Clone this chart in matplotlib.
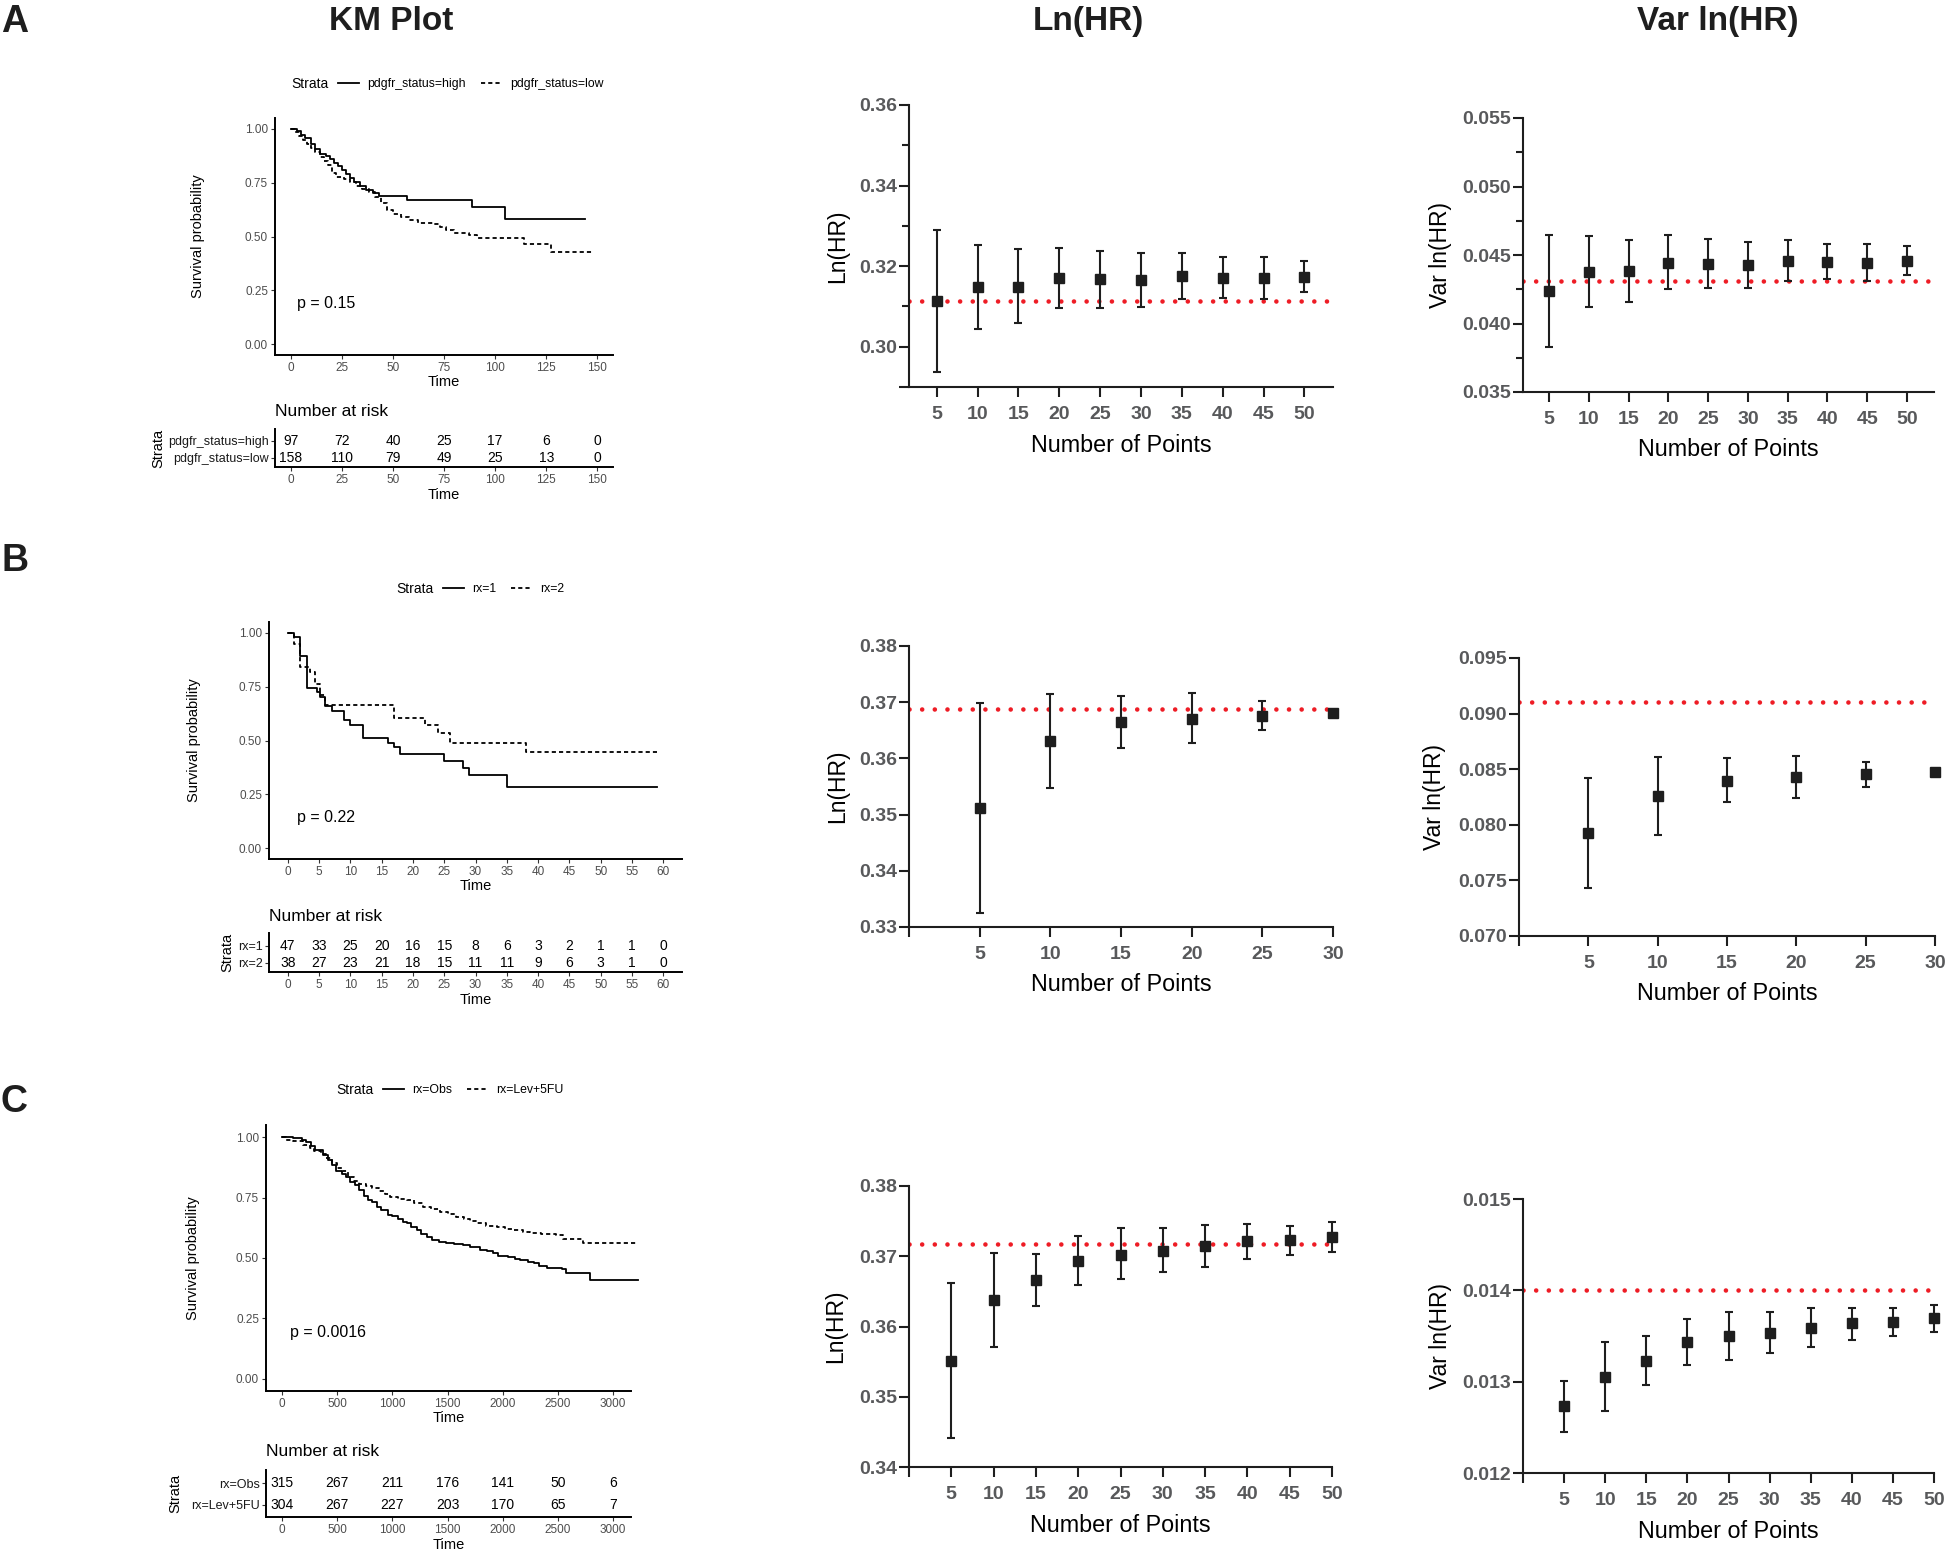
import numpy as np
import matplotlib
matplotlib.use('Agg')
import matplotlib.pyplot as plt

plt.rcParams['font.family'] = ['Liberation Sans', 'DejaVu Sans']

W, H = 1946, 1550

# ---------------- KM curves ----------------
# A: pdgfr_status
a_high_t = [0, 3, 5, 7, 10, 12, 14, 17, 19, 21, 23, 25, 27, 29, 31, 34, 37, 40, 43, 57, 88.5, 105, 144]
a_high_s = [1.0, 0.99, 0.97, 0.955, 0.93, 0.905, 0.885, 0.875, 0.86, 0.84, 0.825, 0.81, 0.79,
            0.77, 0.755, 0.735, 0.715, 0.70, 0.69, 0.671, 0.636, 0.583, 0.583]
a_low_t = [0, 2, 4, 6, 8, 10, 12, 14, 16, 18, 20, 22, 26, 29, 32, 35, 38, 41, 44, 47, 50, 54,
           58, 62, 70, 73, 76, 80, 87, 91, 114, 127.5, 148]
a_low_s = [1.0, 0.985, 0.965, 0.946, 0.93, 0.91, 0.89, 0.87, 0.85, 0.83, 0.795, 0.778, 0.768,
           0.752, 0.735, 0.72, 0.705, 0.685, 0.655, 0.625, 0.605, 0.59, 0.578, 0.562, 0.56,
           0.545, 0.53, 0.517, 0.506, 0.491, 0.463, 0.426, 0.426]
a_labels = ['pdgfr_status=high', 'pdgfr_status=low']
a_risk_t = [0, 25, 50, 75, 100, 125, 150]
a_risk = [[97, 72, 40, 25, 17, 6, 0], [158, 110, 79, 49, 25, 13, 0]]

# B: rx=1 / rx=2
b_1_t = [0, 1, 2, 3, 4.7, 5.1, 6, 7, 9, 10, 12, 16, 17, 18, 25, 28, 29, 35, 59]
b_1_s = [1.0, 0.979, 0.894, 0.745, 0.723, 0.70, 0.66, 0.638, 0.596, 0.574, 0.511, 0.489,
         0.468, 0.436, 0.404, 0.372, 0.34, 0.284, 0.284]
b_2_t = [0, 1, 2, 3.5, 4.3, 5.1, 6, 17, 22, 24, 26, 38, 59]
b_2_s = [1.0, 0.947, 0.842, 0.816, 0.763, 0.711, 0.667, 0.606, 0.573, 0.535, 0.49, 0.446, 0.446]
b_labels = ['rx=1', 'rx=2']
b_risk_t = [0, 5, 10, 15, 20, 25, 30, 35, 40, 45, 50, 55, 60]
b_risk = [[47, 33, 25, 20, 16, 15, 8, 6, 3, 2, 1, 1, 0],
          [38, 27, 23, 21, 18, 15, 11, 11, 9, 6, 3, 1, 0]]

# C: rx=Obs / rx=Lev+5FU
c_obs_t = [0, 100, 180, 220, 260, 300, 370, 420, 450, 490, 540, 580, 620, 660, 700, 740, 780,
           820, 860, 900, 960, 1000, 1050, 1100, 1130, 1170, 1220, 1260, 1310, 1360, 1420, 1490,
           1560, 1640, 1700, 1790, 1860, 1910, 1960, 2050, 2110, 2160, 2230, 2280, 2330, 2400,
           2540, 2570, 2790, 3230]
c_obs_s = [1.0, 0.998, 0.99, 0.98, 0.965, 0.945, 0.925, 0.905, 0.885, 0.858, 0.848, 0.835,
           0.815, 0.802, 0.78, 0.757, 0.738, 0.73, 0.712, 0.70, 0.677, 0.672, 0.663, 0.65, 0.643,
           0.63, 0.615, 0.60, 0.588, 0.575, 0.568, 0.56, 0.558, 0.554, 0.545, 0.533, 0.527, 0.519,
           0.508, 0.505, 0.497, 0.492, 0.485, 0.478, 0.465, 0.46, 0.453, 0.437, 0.409, 0.409]
c_lev_t = [0, 40, 100, 190, 250, 290, 350, 400, 450, 500, 540, 600, 650, 700, 760, 820, 880,
           930, 980, 1050, 1130, 1200, 1280, 1350, 1430, 1500, 1580, 1650, 1700, 1770, 1850,
           1950, 2020, 2100, 2180, 2250, 2350, 2480, 2550, 2600, 2730, 3230]
c_lev_s = [1.0, 0.99, 0.982, 0.968, 0.955, 0.943, 0.93, 0.912, 0.893, 0.873, 0.858, 0.835,
           0.82, 0.808, 0.798, 0.79, 0.778, 0.765, 0.752, 0.745, 0.74, 0.727, 0.712, 0.703, 0.69,
           0.68, 0.67, 0.66, 0.652, 0.643, 0.633, 0.628, 0.62, 0.615, 0.607, 0.602, 0.6, 0.595,
           0.58, 0.577, 0.56, 0.56]
c_labels = ['rx=Obs', 'rx=Lev+5FU']
c_risk_t = [0, 500, 1000, 1500, 2000, 2500, 3000]
c_risk = [[315, 267, 211, 176, 141, 50, 6], [304, 267, 227, 203, 170, 65, 7]]

# ---------------- Ln(HR) / Var ln(HR) estimates ----------------
a_n = [5, 10, 15, 20, 25, 30, 35, 40, 45, 50]
a_ln = [0.3113, 0.3147, 0.3149, 0.3171, 0.3167, 0.3165, 0.3175, 0.3171, 0.3170, 0.3173]
a_ln_lo = [0.2938, 0.3045, 0.3058, 0.3096, 0.3096, 0.3098, 0.3118, 0.3122, 0.3119, 0.3136]
a_ln_hi = [0.3290, 0.3253, 0.3242, 0.3245, 0.3238, 0.3232, 0.3233, 0.3222, 0.3223, 0.3214]
a_ln_ref = 0.3113
a_var = [0.04239, 0.04376, 0.04383, 0.04444, 0.04434, 0.04427, 0.04456, 0.04449, 0.04444, 0.04459]
a_var_lo = [0.03829, 0.04117, 0.04154, 0.04249, 0.04256, 0.04256, 0.04310, 0.04322, 0.04310, 0.04354]
a_var_hi = [0.04646, 0.04639, 0.04610, 0.04644, 0.04615, 0.04598, 0.04607, 0.04578, 0.04578, 0.04563]
a_var_ref = 0.04312

b_n = [5, 10, 15, 20, 25, 30]
b_ln = [0.35112, 0.36302, 0.36639, 0.36704, 0.36751, 0.36805]
b_ln_lo = [0.33249, 0.35467, 0.36183, 0.36266, 0.36503, 0.3677]
b_ln_hi = [0.36982, 0.37148, 0.37107, 0.37166, 0.37018, 0.3684]
b_ln_ref = 0.36876
b_var = [0.07926, 0.08256, 0.08397, 0.08433, 0.08454, 0.08478]
b_var_lo = [0.07433, 0.07904, 0.08205, 0.08244, 0.08343, 0.0846]
b_var_hi = [0.08421, 0.08611, 0.08599, 0.0862, 0.08565, 0.0849]
b_var_ref = 0.09103

c_n = [5, 10, 15, 20, 25, 30, 35, 40, 45, 50]
c_ln = [0.35507, 0.36374, 0.36664, 0.36938, 0.37024, 0.37081, 0.37147, 0.37218, 0.37232, 0.37275]
c_ln_lo = [0.34408, 0.35706, 0.36289, 0.36588, 0.36673, 0.36773, 0.36853, 0.36957, 0.37014, 0.37066]
c_ln_hi = [0.36621, 0.37047, 0.37033, 0.37289, 0.37398, 0.37398, 0.37445, 0.37464, 0.37431, 0.37483]
c_ln_ref = 0.37175
c_var = [0.012731, 0.013049, 0.013228, 0.013429, 0.013502, 0.013538, 0.013593, 0.013637, 0.013652, 0.013692]
c_var_lo = [0.012453, 0.012680, 0.012968, 0.013184, 0.013242, 0.013315, 0.013381, 0.013458, 0.013505, 0.013542]
c_var_hi = [0.013005, 0.013429, 0.013498, 0.013681, 0.013758, 0.013761, 0.013805, 0.013809, 0.013809, 0.013838]
c_var_ref = 0.01400

fig = plt.figure(figsize=(W / 100, H / 100), dpi=100)


def px_ax(l, t, r, b):
    return fig.add_axes([l / W, 1 - b / H, (r - l) / W, (b - t) / H])


def fx(x):
    return x / W


def fy(y):
    return 1 - y / H


GRAY = '#4d4d4d'


def km_panel(box, xlim, xticks, curves, labels, ptxt, pxy, leg_x, leg_y, ylab_x):
    ax = px_ax(*box)
    lines = []
    for (t, s), ls in zip(curves, ['-', (0, (2.3, 1.7))]):
        ln, = ax.step(t, s, where='post', color='black', lw=1.3, linestyle=ls, clip_on=False)
        lines.append(ln)
    ax.set_xlim(xlim)
    ax.set_ylim(-0.05, 1.05)
    ax.set_xticks(xticks)
    ax.set_yticks([0, 0.25, 0.5, 0.75, 1.0], labels=['0.00', '0.25', '0.50', '0.75', '1.00'])
    for sp in ['top', 'right']:
        ax.spines[sp].set_visible(False)
    for sp in ['left', 'bottom']:
        ax.spines[sp].set_linewidth(1.4)
    ax.tick_params(length=3, width=0.8, color='#333333', labelcolor=GRAY, labelsize=8.5, pad=2)
    ax.set_xlabel('Time', fontsize=10.5)
    ax.xaxis.set_label_coords(0.5, -(27 / (box[3] - box[1])))
    ax.xaxis.label.set_va('center')
    ax.set_ylabel('Survival probability', fontsize=10.5)
    ax.yaxis.set_label_coords(-(box[0] - ylab_x) / (box[2] - box[0]), 0.5)
    ax.yaxis.label.set_va('center')
    ax.text(pxy[0], pxy[1], ptxt, fontsize=11.5, ha='left', va='center')
    ax.legend(lines, labels, ncol=2, frameon=False, loc='center left',
              bbox_to_anchor=(fx(leg_x), fy(leg_y)), bbox_transform=fig.transFigure,
              handlelength=1.7, handletextpad=0.7, columnspacing=1.2, fontsize=8.8,
              borderpad=0, borderaxespad=0)
    fig.text(fx(leg_x - 9), fy(leg_y), 'Strata', fontsize=10, ha='right', va='center')
    return ax


def risk_panel(box, xlim, xticks, counts, names, ylim, title_y, strata_x):
    ax = px_ax(*box)
    for vals, yv in zip(counts, [2, 1]):
        for xt, v in zip(xticks, vals):
            ax.text(xt, yv, str(v), ha='center', va='center', fontsize=10)
    ax.set_xlim(xlim)
    ax.set_ylim(ylim)
    ax.set_xticks(xticks)
    ax.set_yticks([2, 1], labels=names)
    for sp in ['top', 'right']:
        ax.spines[sp].set_visible(False)
    for sp in ['left', 'bottom']:
        ax.spines[sp].set_linewidth(1.4)
    ax.tick_params(axis='x', length=3, width=0.8, color='#333333', labelcolor=GRAY,
                   labelsize=8.5, pad=2)
    ax.tick_params(axis='y', length=3, width=0.8, color='#333333', labelcolor='#1a1a1a',
                   labelsize=9, pad=1.5)
    ax.set_xlabel('Time', fontsize=10.5)
    ax.xaxis.set_label_coords(0.5, -(28 / (box[3] - box[1])))
    ax.xaxis.label.set_va('center')
    ax.set_ylabel('Strata', fontsize=10.5)
    ax.yaxis.set_label_coords(-(box[0] - strata_x) / (box[2] - box[0]), 0.5)
    ax.yaxis.label.set_va('center')
    fig.text(fx(box[0]), fy(title_y), 'Number at risk', fontsize=12.5, ha='left', va='center')
    return ax


def prism_panel(box, xlim, xticks, xlabels, ylim, yticks, ylabels, yminor,
                n, est, lo, hi, ref, ylabel, ylab_x):
    ax = px_ax(*box)
    ax.axhline(ref, color='#ee1c25', lw=3.3, linestyle=(0, (0.01, 2.75)),
               dash_capstyle='round', zorder=1)
    est = np.array(est)
    err = [est - np.array(lo), np.array(hi) - est]
    cont = ax.errorbar(n, est, yerr=err, fmt='s', ms=7.7, color='#1e1e1e', ecolor='#1e1e1e',
                       elinewidth=1.5, capsize=3, capthick=1.5, zorder=3)
    for art in [cont.lines[0]] + list(cont.lines[1]) + list(cont.lines[2]):
        art.set_clip_on(False)
    ax.set_xlim(xlim)
    ax.set_ylim(ylim)
    ax.set_xticks(xticks, labels=xlabels)
    ax.set_yticks(yticks, labels=ylabels)
    if yminor:
        ax.set_yticks(yminor, minor=True)
    for sp in ['top', 'right']:
        ax.spines[sp].set_visible(False)
    for sp in ['left', 'bottom']:
        ax.spines[sp].set_linewidth(1.5)
        ax.spines[sp].set_color('#1e1e1e')
    ax.tick_params(axis='y', which='major', length=7, width=1.5, color='#1e1e1e',
                   labelcolor='#58595b', labelsize=14, pad=1.5)
    ax.tick_params(axis='y', which='minor', length=5, width=1.5, color='#1e1e1e')
    ax.tick_params(axis='x', which='major', length=7, width=1.5, color='#1e1e1e',
                   labelcolor='#58595b', labelsize=14, pad=7)
    for lab in ax.get_xticklabels() + ax.get_yticklabels():
        lab.set_fontweight('bold')
    hgt = box[3] - box[1]
    ax.set_xlabel('Number of Points', fontsize=16.8)
    ax.xaxis.set_label_coords(0.5, -(58 / hgt))
    ax.xaxis.label.set_va('center')
    ax.set_ylabel(ylabel, fontsize=16.5)
    ax.yaxis.set_label_coords(-(box[0] - ylab_x) / (box[2] - box[0]), 0.5)
    ax.yaxis.label.set_va('center')
    return ax


# ---------------- Row A ----------------
km_panel((275, 118, 613, 355), (-7.8, 157.7), a_risk_t,
         [(a_high_t, a_high_s), (a_low_t, a_low_s)], a_labels,
         'p = 0.15', (2.9, 0.19), 338, 84, 198)
risk_panel((275, 429, 613, 467), (-7.8, 157.7), a_risk_t, a_risk, a_labels,
           (0.47, 2.7), 412, 158)

prism_panel((909, 105, 1333, 387), (1.6, 53.5), a_n, [str(v) for v in a_n],
            (0.29, 0.36), [0.29, 0.30, 0.32, 0.34, 0.36], ['', '0.30', '0.32', '0.34', '0.36'],
            [0.31, 0.33, 0.35], a_n, a_ln, a_ln_lo, a_ln_hi, a_ln_ref, 'Ln(HR)', 838)
prism_panel((1523, 118, 1934, 392), (1.7, 53.4), a_n, [str(v) for v in a_n],
            (0.035, 0.055), [0.035, 0.040, 0.045, 0.050, 0.055],
            ['0.035', '0.040', '0.045', '0.050', '0.055'],
            [0.0375, 0.0425, 0.0475, 0.0525], a_n, a_var, a_var_lo, a_var_hi, a_var_ref,
            'Var ln(HR)', 1440)

# ---------------- Row B ----------------
km_panel((269, 622, 682, 859), (-3.0, 63.0), b_risk_t,
         [(b_1_t, b_1_s), (b_2_t, b_2_s)], b_labels,
         'p = 0.22', (1.4, 0.144), 443, 589, 194)
risk_panel((269, 933, 682, 972), (-3.0, 63.0), b_risk_t, b_risk, b_labels,
           (0.47, 2.76), 917, 227)

prism_panel((909, 646, 1333, 927), (0, 30), [0] + b_n, [''] + [str(v) for v in b_n],
            (0.33, 0.38), [0.33, 0.34, 0.35, 0.36, 0.37, 0.38],
            ['0.33', '0.34', '0.35', '0.36', '0.37', '0.38'],
            None, b_n, b_ln, b_ln_lo, b_ln_hi, b_ln_ref, 'Ln(HR)', 838)
prism_panel((1519, 658, 1935, 936), (0, 30), [0] + b_n, [''] + [str(v) for v in b_n],
            (0.070, 0.095), [0.070, 0.075, 0.080, 0.085, 0.090, 0.095],
            ['0.070', '0.075', '0.080', '0.085', '0.090', '0.095'],
            None, b_n, b_var, b_var_lo, b_var_hi, b_var_ref, 'Var ln(HR)', 1435)

# ---------------- Row C ----------------
km_panel((266, 1125, 631, 1391), (-145, 3163), c_risk_t,
         [(c_obs_t, c_obs_s), (c_lev_t, c_lev_s)], c_labels,
         'p = 0.0016', (72, 0.19), 383, 1090, 193)
risk_panel((266, 1470, 631, 1517), (-145, 3163), c_risk_t, c_risk, c_labels,
           (0.45, 2.6), 1451, 175)

prism_panel((909, 1186, 1332, 1467), (0, 50), [0] + c_n, [''] + [str(v) for v in c_n],
            (0.34, 0.38), [0.34, 0.35, 0.36, 0.37, 0.38],
            ['0.34', '0.35', '0.36', '0.37', '0.38'],
            None, c_n, c_ln, c_ln_lo, c_ln_hi, c_ln_ref, 'Ln(HR)', 836)
prism_panel((1523, 1199, 1934, 1473), (0, 50), [0] + c_n, [''] + [str(v) for v in c_n],
            (0.012, 0.015), [0.012, 0.013, 0.014, 0.015],
            ['0.012', '0.013', '0.014', '0.015'],
            None, c_n, c_var, c_var_lo, c_var_hi, c_var_ref, 'Var ln(HR)', 1440)

# ---------------- titles and panel letters ----------------
for txt, xc in [('KM Plot', 391), ('Ln(HR)', 1088), ('Var ln(HR)', 1718)]:
    fig.text(fx(xc), fy(30), txt, fontsize=24, fontweight='bold', ha='center',
             va='baseline', color='#1e1e1e')
for txt, yb in [('A', 32), ('B', 571), ('C', 1112)]:
    fig.text(fx(1), fy(yb), txt, fontsize=27, fontweight='bold', ha='left',
             va='baseline', color='#1e1e1e')

fig.savefig('out.png', dpi=100)
